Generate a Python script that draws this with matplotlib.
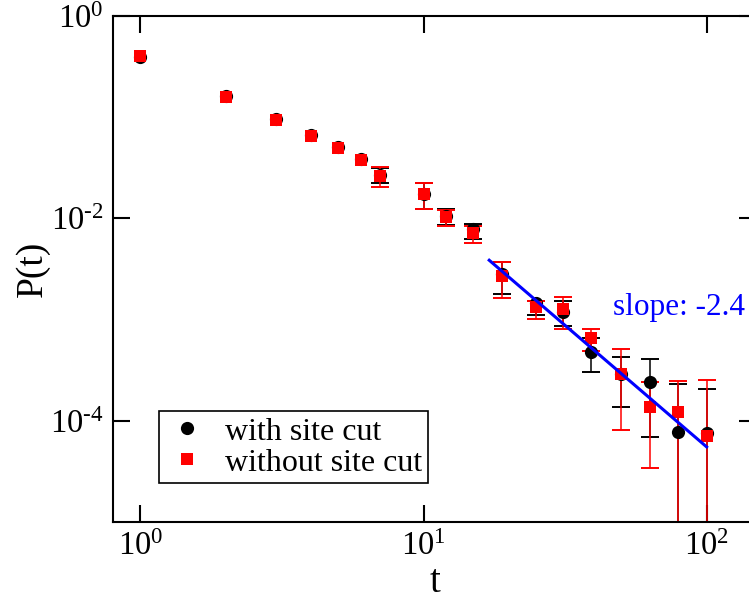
import numpy as np
import matplotlib
matplotlib.use("Agg")
import matplotlib.pyplot as plt
from matplotlib.ticker import FuncFormatter

plt.rcParams['font.family'] = ['Liberation Serif', 'DejaVu Serif']
plt.rcParams['mathtext.fontset'] = 'custom'
plt.rcParams['mathtext.rm'] = 'Liberation Serif'
plt.rcParams['mathtext.it'] = 'Liberation Serif:italic'

# data
t = [1, 2, 3, 4, 5, 6, 7, 10, 12, 15, 19, 25, 31, 39, 50, 63, 79, 100]

p_cut = [0.392, 0.161, 0.096, 0.0665, 0.0502, 0.0385, 0.0269, 0.0176, 0.01054, 0.0079,
         0.0028, 0.00146, 0.00119, 0.000477, 0.00029, 0.00024, 7.8e-5, 7.6e-5]
lo_cut = [np.nan] * 6 + [0.0226, 0.0125, 0.0087, 0.0062,
                         0.0018, 0.0011, 0.000855, 0.000304, 0.000137, 6.9e-5, 1e-7, 1e-7]
hi_cut = [np.nan] * 6 + [0.0318, 0.0224, 0.0123, 0.0089,
                         0.0037, 0.00151, 0.00154, 0.000656, 0.00043, 0.00041, 0.00023, 0.000206]

p_nocut = [0.407, 0.157, 0.093, 0.065, 0.0494, 0.0379, 0.0265, 0.0176, 0.0103, 0.0072,
           0.00268, 0.00133, 0.00127, 0.000656, 0.00029, 0.000138, 0.000121, 7.05e-5]
lo_nocut = [np.nan] * 6 + [0.0206, 0.0125, 0.0084, 0.0057,
                           0.00165, 0.00101, 0.00081, 0.00049, 8.2e-5, 3.45e-5, 1e-7, 1e-7]
hi_nocut = [np.nan] * 6 + [0.0325, 0.0224, 0.0121, 0.0085,
                           0.00372, 0.00152, 0.00169, 0.00081, 0.00051, 0.00024, 0.000248, 0.000253]

# fitted power law, end points
fit_t = [17.06, 100]
fit_p = [3.86e-3, 5.52e-5]

fig = plt.figure(figsize=(7.49, 6), dpi=100)
ax = fig.add_axes([113 / 749, 78 / 600, 643.5 / 749, 506 / 600])


def draw(p, lo, hi, color, marker, ms, label):
    t_a = np.array(t, dtype=float)
    p_a = np.array(p)
    lo_a = np.array(lo)
    hi_a = np.array(hi)
    m = ~np.isnan(lo_a)
    ax.errorbar(t_a[m], p_a[m], yerr=[p_a[m] - lo_a[m], hi_a[m] - p_a[m]], fmt='none',
                ecolor=color, elinewidth=1.1, capsize=6.5, capthick=1.4, zorder=2)
    ax.plot(t_a, p_a, linestyle='none', marker=marker, ms=ms, color=color,
            markeredgewidth=0, label=label, zorder=3)


draw(p_cut, lo_cut, hi_cut, 'black', 'o', 9.5, 'with site cut')
draw(p_nocut, lo_nocut, hi_nocut, 'red', 's', 8.5, 'without site cut')

ax.plot(fit_t, fit_p, color='blue', lw=2.2, zorder=5)
ax.text(46.5, 1.1e-3, 'slope: -2.4', color='blue', fontsize=22.5, ha='left', va='baseline')

ax.set_xscale('log')
ax.set_yscale('log')
ax.set_xlim(0.8, 150)
ax.set_ylim(1e-5, 1)
ax.set_xticks([1, 10, 100])
ax.set_yticks([1, 1e-2, 1e-4])
ax.minorticks_off()


def pow10(v, pos):
    e = int(round(np.log10(v)))
    s = str(abs(e))
    if e < 0:
        s = '\u2010' + s
    return '$\\mathregular{10^{' + s + '}}$'


ax.xaxis.set_major_formatter(FuncFormatter(pow10))
ax.yaxis.set_major_formatter(FuncFormatter(pow10))
ax.tick_params(which='major', direction='in', length=12.5, width=1.5, labelsize=23.5,
               top=True, right=True, pad=7)
for s in ax.spines.values():
    s.set_linewidth(1.5)

ax.set_xlabel('t', fontsize=28, labelpad=1.5)
ax.set_ylabel('P(t)', fontsize=27, labelpad=0)

leg = ax.legend(loc='lower left', bbox_to_anchor=(0.0715, 0.0765), borderaxespad=0,
                fontsize=23, numpoints=1, handlelength=1.37, handletextpad=0.51,
                borderpad=0.18, labelspacing=0.05, fancybox=False, framealpha=1)
leg.get_frame().set_edgecolor('black')
leg.get_frame().set_linewidth(1.2)

fig.savefig('out.png', dpi=100)
